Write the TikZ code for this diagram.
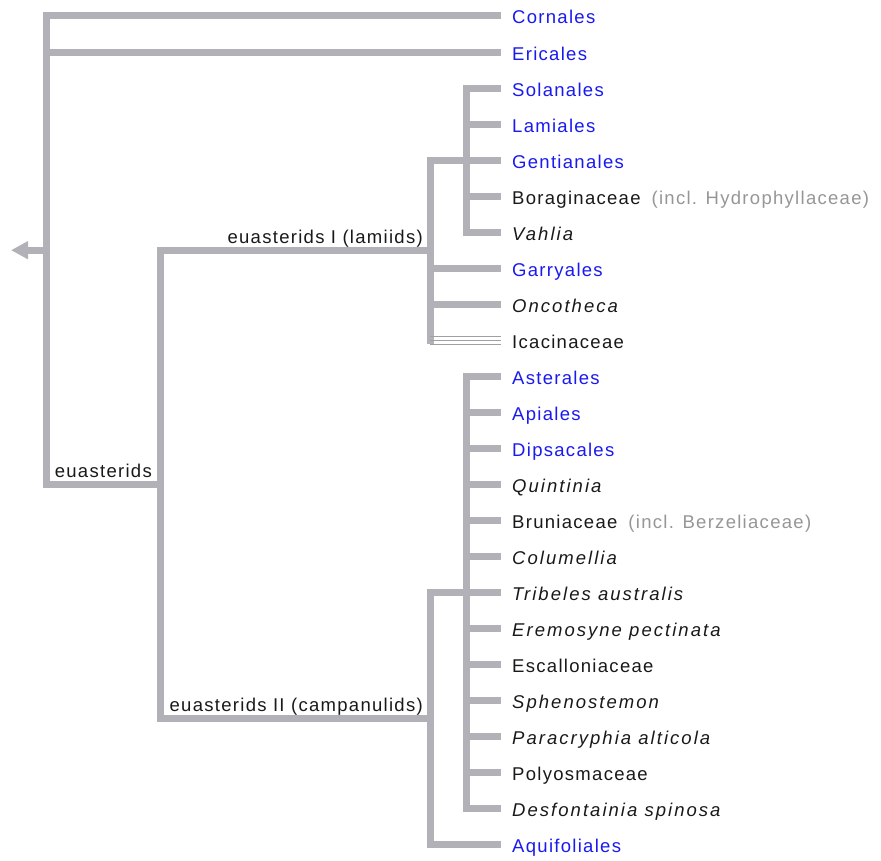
\documentclass[tikz,border=0pt]{standalone}
\usepackage{fontspec}
\setmainfont{Liberation Sans}[LetterSpace=7, ItalicFeatures={LetterSpace=11}]
\usetikzlibrary{positioning,arrows.meta}
\definecolor{treegray}{RGB}{178,177,184}
\definecolor{ordblue}{RGB}{25,25,240}
\definecolor{notegray}{RGB}{150,150,150}
\definecolor{txtblack}{RGB}{25,25,25}
\newcommand{\treefont}{\fontsize{18.5}{22}\selectfont}
\newcommand{\incl}[1]{\hspace{11pt}\textcolor{notegray}{(incl. #1)}}

\begin{document}
\begin{tikzpicture}[
            x=1pt, y=-1pt,
            tree/.style={draw=treegray, line width=7pt},
            thinline/.style={draw=treegray!90!black, line width=1.4pt},
            leaf/.style={inner sep=0pt, text height=16pt, text depth=0pt, font=\treefont, text=txtblack},
            ord/.style={leaf, text=ordblue},
            gen/.style={leaf, font=\treefont\itshape},
            clade/.style={inner sep=0pt, anchor=base east, font=\treefont, text=txtblack}
        ]
        \useasboundingbox (0,0) rectangle (881,860);

        % junctions
        \coordinate (jRoot) at (46,250.2);
        \coordinate (rootOut) at (11,250.2);
        \coordinate (jEu)   at (160,484.5);
        \coordinate (jLam)  at (430,250.3);
        \coordinate (jCam)  at (430,718.8);
        \coordinate (jInL)  at (466,160.2);
        \coordinate (jInC)  at (466,592.6);
        \coordinate (lamBot) at (430,340.4);

        % tips
        \coordinate (tCor) at (501,15.5);
        \coordinate (tEri) at (501,52.0);
        \coordinate (tSol) at (501,88.1);
        \coordinate (tLam) at (501,124.1);
        \coordinate (tGen) at (501,160.2);
        \coordinate (tBor) at (501,196.2);
        \coordinate (tVah) at (501,232.2);
        \coordinate (tGar) at (501,268.3);
        \coordinate (tOnc) at (501,304.3);
        \coordinate (tIca) at (501,340.4);
        \coordinate (tAst) at (501,376.4);
        \coordinate (tApi) at (501,412.4);
        \coordinate (tDip) at (501,448.5);
        \coordinate (tQui) at (501,484.5);
        \coordinate (tBru) at (501,520.6);
        \coordinate (tCol) at (501,556.6);
        \coordinate (tTri) at (501,592.6);
        \coordinate (tEre) at (501,628.7);
        \coordinate (tEsc) at (501,664.7);
        \coordinate (tSph) at (501,700.8);
        \coordinate (tPar) at (501,736.8);
        \coordinate (tPol) at (501,772.8);
        \coordinate (tDes) at (501,808.9);
        \coordinate (tAqu) at (501,844.9);

        % root
        \draw[tree, -{Triangle[length=17pt,width=17pt]}] (jRoot) -- (rootOut);
        \draw[tree] (tCor) -| (jRoot) |- (jEu);
        \draw[tree] (jRoot |- tEri) -- (tEri);

        % euasterids
        \draw[tree] (jLam) -| (jEu) |- (jCam);

        % lamiids
        \draw[tree, line cap=rect] (jInL) -| (lamBot);
        \draw[tree] (tSol) -| (jInL) |- (tVah);
        \draw[tree] (jInL |- tLam) -- (tLam);
        \draw[tree] (jInL) -- (tGen);
        \draw[tree] (jInL |- tBor) -- (tBor);
        \draw[tree] (jLam |- tGar) -- (tGar);
        \draw[tree] (jLam |- tOnc) -- (tOnc);
        \draw[thinline] ([yshift=4pt]lamBot) -- ([yshift=4pt]tIca);
        \draw[thinline] (lamBot) -- (tIca);
        \draw[thinline] ([yshift=-4pt]lamBot) -- ([yshift=-4pt]tIca);

        % campanulids
        \draw[tree] (jInC) -| (jCam) |- (tAqu);
        \draw[tree] (tAst) -| (jInC) |- (tDes);
        \draw[tree] (jInC |- tApi) -- (tApi);
        \draw[tree] (jInC |- tDip) -- (tDip);
        \draw[tree] (jInC |- tQui) -- (tQui);
        \draw[tree] (jInC |- tBru) -- (tBru);
        \draw[tree] (jInC |- tCol) -- (tCol);
        \draw[tree] (jInC) -- (tTri);
        \draw[tree] (jInC |- tEre) -- (tEre);
        \draw[tree] (jInC |- tEsc) -- (tEsc);
        \draw[tree] (jInC |- tSph) -- (tSph);
        \draw[tree] (jInC |- tPar) -- (tPar);
        \draw[tree] (jInC |- tPol) -- (tPol);

        % clade labels
        \node[clade] (euast)  at ([xshift=-8pt,yshift=7pt]jEu)  {euasterids};
        \node[clade] (lamiid) at ([xshift=-7pt,yshift=7pt]jLam) {euasterids I (lamiids)};
        \node[clade] (campan) at ([xshift=-7pt,yshift=7pt]jCam) {euasterids II (campanulids)};

        % leaf labels
        \node[ord, right=11pt of tCor] (cornales)    {Cornales};
        \node[ord, right=11pt of tEri] (ericales)    {Ericales};
        \node[ord, right=11pt of tSol] (solanales)   {Solanales};
        \node[ord, right=11pt of tLam] (lamiales)    {Lamiales};
        \node[ord, right=11pt of tGen] (gentianales) {Gentianales};
        \node[leaf, right=11pt of tBor] (boragin)    {Boraginaceae\incl{Hydrophyllaceae}};
        \node[gen, right=11pt of tVah] (vahlia)      {Vahlia};
        \node[ord, right=11pt of tGar] (garryales)   {Garryales};
        \node[gen, right=11pt of tOnc] (oncotheca)   {Oncotheca};
        \node[leaf, right=11pt of tIca] (icacin)     {Icacinaceae};
        \node[ord, right=11pt of tAst] (asterales)   {Asterales};
        \node[ord, right=11pt of tApi] (apiales)     {Apiales};
        \node[ord, right=11pt of tDip] (dipsacales)  {Dipsacales};
        \node[gen, right=11pt of tQui] (quintinia)   {Quintinia};
        \node[leaf, right=11pt of tBru] (bruni)      {Bruniaceae\incl{Berzeliaceae}};
        \node[gen, right=11pt of tCol] (columellia)  {Columellia};
        \node[gen, right=11pt of tTri] (tribeles)    {Tribeles australis};
        \node[gen, right=11pt of tEre] (eremosyne)   {Eremosyne pectinata};
        \node[leaf, right=11pt of tEsc] (escallon)   {Escalloniaceae};
        \node[gen, right=11pt of tSph] (sphenost)    {Sphenostemon};
        \node[gen, right=11pt of tPar] (paracryph)   {Paracryphia alticola};
        \node[leaf, right=11pt of tPol] (polyosm)    {Polyosmaceae};
        \node[gen, right=11pt of tDes] (desfont)     {Desfontainia spinosa};
        \node[ord, right=11pt of tAqu] (aquifol)     {Aquifoliales};
    \end{tikzpicture}
\end{document}
